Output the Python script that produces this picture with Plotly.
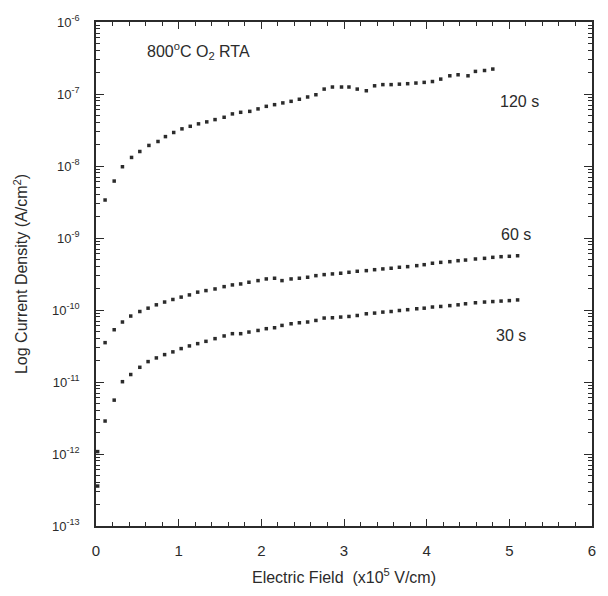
import math
import plotly.graph_objects as go

# Electric field (x10^5 V/cm)
x_120 = [0.11, 0.22, 0.32, 0.43, 0.53, 0.64, 0.75, 0.84, 0.94, 1.04, 1.14, 1.24, 1.34, 1.44, 1.55, 1.65,
         1.75, 1.86, 1.96, 2.06, 2.16, 2.26, 2.36, 2.46, 2.56, 2.66, 2.76, 2.86, 2.97, 3.06, 3.16, 3.27,
         3.37, 3.47, 3.57, 3.67, 3.77, 3.87, 3.97, 4.07, 4.17, 4.28, 4.38, 4.50, 4.59, 4.70, 4.80]
j_120 = [3.37e-9, 6.18e-9, 9.77e-9, 1.315e-8, 1.59e-8, 1.93e-8, 2.19e-8, 2.56e-8, 2.92e-8, 3.28e-8,
         3.56e-8, 3.85e-8, 4.10e-8, 4.41e-8, 4.75e-8, 5.29e-8, 5.57e-8, 5.74e-8, 6.21e-8, 6.74e-8,
         7.11e-8, 7.52e-8, 7.91e-8, 8.45e-8, 9.09e-8, 9.77e-8, 1.17e-7, 1.25e-7, 1.25e-7, 1.25e-7,
         1.17e-7, 1.11e-7, 1.30e-7, 1.35e-7, 1.35e-7, 1.37e-7, 1.39e-7, 1.42e-7, 1.45e-7, 1.49e-7,
         1.61e-7, 1.79e-7, 1.85e-7, 1.79e-7, 2.06e-7, 2.12e-7, 2.22e-7]

x_60 = [0.02, 0.11, 0.22, 0.32, 0.42, 0.53, 0.63, 0.73, 0.83, 0.93, 1.03, 1.13, 1.23, 1.33, 1.44, 1.55,
        1.65, 1.75, 1.85, 1.96, 2.06, 2.16, 2.25, 2.36, 2.46, 2.56, 2.66, 2.76, 2.86, 2.96, 3.06, 3.16,
        3.27, 3.37, 3.47, 3.57, 3.67, 3.77, 3.88, 3.97, 4.07, 4.17, 4.28, 4.38, 4.47, 4.59, 4.70, 4.80,
        4.90, 5.00, 5.10]
j_60 = [1.08e-12, 3.52e-11, 5.32e-11, 6.81e-11, 8.24e-11, 9.53e-11, 1.06e-10, 1.18e-10, 1.29e-10,
        1.40e-10, 1.51e-10, 1.62e-10, 1.77e-10, 1.86e-10, 1.96e-10, 2.11e-10, 2.23e-10, 2.30e-10,
        2.43e-10, 2.56e-10, 2.70e-10, 2.76e-10, 2.56e-10, 2.70e-10, 2.76e-10, 2.85e-10, 3.00e-10,
        3.10e-10, 3.17e-10, 3.24e-10, 3.34e-10, 3.45e-10, 3.52e-10, 3.63e-10, 3.72e-10, 3.80e-10,
        3.92e-10, 4.00e-10, 4.13e-10, 4.26e-10, 4.46e-10, 4.59e-10, 4.69e-10, 4.84e-10, 4.94e-10,
        5.11e-10, 5.22e-10, 5.39e-10, 5.50e-10, 5.57e-10, 5.67e-10]

x_30 = [0.02, 0.11, 0.22, 0.32, 0.42, 0.53, 0.63, 0.73, 0.83, 0.93, 1.03, 1.13, 1.23, 1.33, 1.44, 1.55,
        1.65, 1.75, 1.85, 1.96, 2.06, 2.16, 2.25, 2.36, 2.46, 2.56, 2.66, 2.76, 2.86, 2.96, 3.06, 3.16,
        3.27, 3.37, 3.47, 3.57, 3.67, 3.77, 3.88, 3.97, 4.07, 4.17, 4.28, 4.38, 4.47, 4.59, 4.70, 4.80,
        4.90, 5.00, 5.10]
j_30 = [3.59e-13, 2.87e-12, 5.60e-12, 1.01e-11, 1.27e-11, 1.60e-11, 1.92e-11, 2.16e-11, 2.40e-11,
        2.62e-11, 2.91e-11, 3.17e-11, 3.41e-11, 3.67e-11, 4.00e-11, 4.36e-11, 4.69e-11, 4.69e-11,
        4.94e-11, 5.20e-11, 5.50e-11, 5.67e-11, 6.11e-11, 6.44e-11, 6.65e-11, 6.81e-11, 7.16e-11,
        7.73e-11, 7.80e-11, 7.98e-11, 8.13e-11, 8.39e-11, 8.86e-11, 9.06e-11, 9.35e-11, 9.53e-11,
        9.84e-11, 1.01e-10, 1.04e-10, 1.06e-10, 1.10e-10, 1.12e-10, 1.15e-10, 1.18e-10, 1.22e-10,
        1.26e-10, 1.29e-10, 1.31e-10, 1.33e-10, 1.35e-10, 1.38e-10]

series_names = ["120 s", "60 s", "30 s"]
label_pos = [(4.86, 7.8e-8), (4.88, 1.12e-9), (4.82, 4.4e-11)]

y_exponents = [-13, -12, -11, -10, -9, -8, -7, -6]
y_ticktext = ["10<sup>-13</sup>", "10<sup>-12</sup>", "10<sup>-11</sup>", "10<sup>-10</sup>",
              "10<sup>-9</sup>", "10<sup>-8</sup>", "10<sup>-7</sup>", "10<sup>-6</sup>"]
y_minor_mult = [2, 3, 4, 5, 6, 7, 8, 9]
x_tickvals = [0, 1, 2, 3, 4, 5, 6]

INK = "#2b2b2b"
FONT = "Liberation Sans, Arial, sans-serif"

y_tickvals = [10.0 ** e for e in y_exponents]
y_minor_vals = [m * 10.0 ** e for e in y_exponents[:-1] for m in y_minor_mult]

fig = go.Figure()
for xs, ys, name in [(x_120, j_120, series_names[0]), (x_60, j_60, series_names[1]), (x_30, j_30, series_names[2])]:
    fig.add_trace(go.Scatter(x=xs, y=ys, mode="markers", name=name,
                             marker=dict(symbol="square", size=3.5, color=INK, line=dict(width=0))))
# empty trace carrying the overlay axis used for minor log ticks
fig.add_trace(go.Scatter(x=[None], y=[None], yaxis="y2", mode="markers", hoverinfo="skip", showlegend=False))

for name, (lx, ly) in zip(series_names, label_pos):
    fig.add_annotation(x=lx, y=math.log10(ly), yref="y", xref="x", text=name, showarrow=False,
                       font=dict(family=FONT, size=16, color=INK), xanchor="left", yanchor="middle")

fig.add_annotation(x=0.59, y=math.log10(4.0e-7), xref="x", yref="y",
                   text="800<sup>o</sup>C O<sub>2</sub> RTA", showarrow=False,
                   font=dict(family=FONT, size=16, color=INK), xanchor="left", yanchor="middle")

fig.update_layout(
    width=608, height=596,
    margin=dict(l=96, r=13, t=22, b=68),
    paper_bgcolor="white", plot_bgcolor="white",
    showlegend=False,
    font=dict(family=FONT, size=14, color=INK),
    yaxis2=dict(type="log", range=[-13, -6], overlaying="y", side="left", tickmode="array",
                tickvals=y_minor_vals, showticklabels=False, ticks="inside", ticklen=4,
                tickwidth=1, tickcolor=INK, mirror="ticks", showline=False, showgrid=False,
                zeroline=False),
)
fig.update_xaxes(
    range=[0, 6], tickvals=x_tickvals, ticks="inside", ticklen=7, tickwidth=1, tickcolor=INK,
    showline=True, linecolor=INK, linewidth=1.5, mirror="ticks", showgrid=False, zeroline=False,
    minor=dict(dtick=0.2, ticks="inside", ticklen=4, tickcolor=INK, showgrid=False),
    tickfont=dict(size=15), ticklabelstandoff=10,
    title=dict(text="Electric Field  (x10<sup>5</sup> V/cm)", font=dict(size=16), standoff=14),
)
fig.update_layout(yaxis=dict(
    type="log", range=[-13, -6], tickmode="array", tickvals=y_tickvals, ticktext=y_ticktext,
    ticks="inside", ticklen=8, tickwidth=1, tickcolor=INK,
    showline=True, linecolor=INK, linewidth=1.5, mirror="ticks", showgrid=False, zeroline=False,
    tickfont=dict(size=13), ticklabelstandoff=12,
    title=dict(text="Log Current Density (A/cm<sup>2</sup>)", font=dict(size=16), standoff=20),
))

fig.write_html("out.html")
